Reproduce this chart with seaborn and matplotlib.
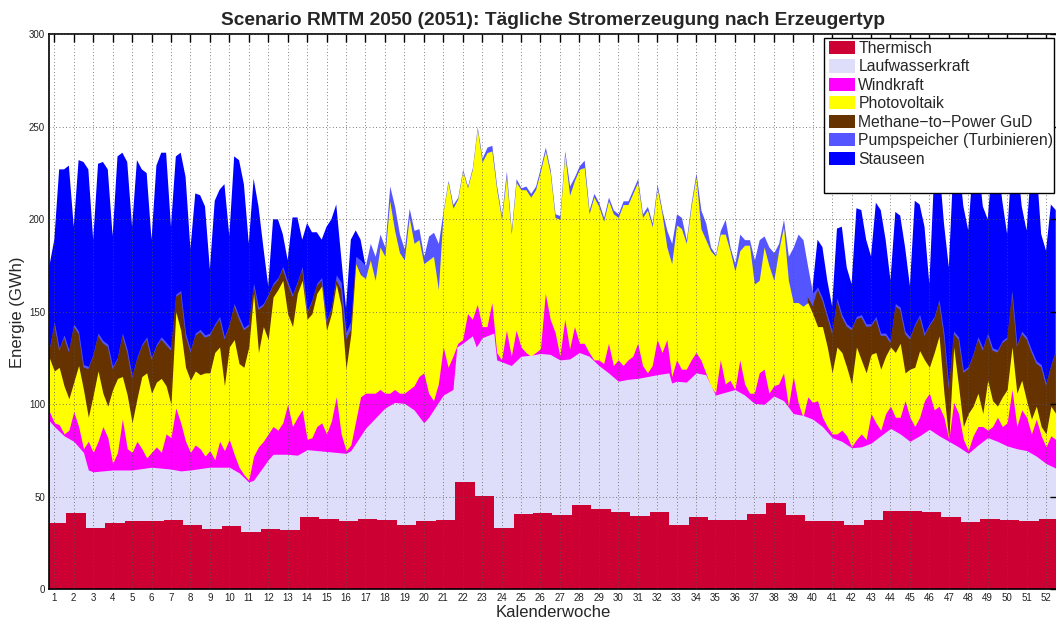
import matplotlib
matplotlib.use("Agg")
import matplotlib.pyplot as plt
from matplotlib.patches import Patch, Rectangle
import numpy as np
import seaborn as sns

N = float("nan")

# x grid in calendar weeks (quarter-week steps, 0.75 .. 52.5)
weeks = np.arange(0.75, 52.51, 0.25)

# cumulative tops of each layer (GWh)
stauseen_top = ([175,
    189, 227, 227, 229,  196, 232, 231, 227,  189, 230, 231, 227,
    191, 234, 236, 231,  196, 232, 227, 225,  189, 229, 236, 236,
    196, 234, 236, 223,  184, 214, 213, 207,  173, 210, 216, 219,
    191, 234, 232, 219,  187, 222, 207, 185,  164, 200, 200, 192,
    178, 201, 201, 189,  198, 193, 193, 189,  196, 200, 208, 180,
    152, 189, 194, 189,  175, N, N, N]
    + [N] * 88 +
    [164, 189, 185, 167,  153, 195, 196, 174,  165, 206, 205, 189,
     180, 209, 205, 189,  167, 204, 202, 185,  164, 210, 208, 196,
     165, 225, 230, 198,  174, 232, 232, 207,  194, 230, 232, 207,
     200, 232, 232, 210,  192, 233, 233, 207,  194, 230, 230, 192,
     183, 208, 205])

pump_top = [130.5,
    144.5, 130.5, 137.5, 129.5,  143.5, 139.5, 121.5, 120.5,
    127.5, 138.5, 134.5, 132.5,  120.5, 125.5, 138.5, 129.5,
    115.5, 125.5, 132.5, 136.5,  125.5, 132.5, 136.5, 133.5,
    130.5, 159.5, 161.5, 138.5,  129.5, 138.5, 140.5, 137.5,
    138.5, 143.5, 147.5, 136.5,  143.5, 154.5, 147.5, 141.5,
    143.5, 165.5, 152.5, 154.5,  159.5, 165.5, 168.5, 174.5,
    166.5, 159.5, 166.5, 174.5,  150.5, 156.5, 165.5, 168.5,
    145.5, 152.5, 170, 166,      139, 145, 180, 178,
    175, 187, 180, 192,          185, 218, 207, 192,
    184, 206, 194, 195,          180, 191, 193, 187,
    205, 221, 208, 212,          227, 218, 228, 250,
    233, 239, 240, 218,          202, 226, 194, 222,
    217, 218, 214, 218,          228, 239, 227, 203,
    202, 237, 218, 223,          229, 232, 205, 214,
    209, 201, 212, 205,          203, 210, 210, 216,
    222, 203, 207, 198,          219, 205, 194, 187,
    203, 201, 189, 209,          225, 205, 198, 185,
    181, 194, 200, 185,          176, 192, 189, 189,
    178, 189, 191, 185,          182, 187, 200, 180,
    185, 192, 189, 174,          160, 163.5, 157.5, 148.5,
    139.5, 157.5, 148.5, 143.5,  141.5, 147.5, 148.5, 143.5,
    143.5, 147.5, 138.5, 138.5,  134.5, 154.5, 152.5, 139.5,
    136.5, 143.5, 148.5, 138.5,  143.5, 147.5, 156.5, 138.5,
    109.5, 139.5, 136.5, 118.5,  120.5, 127.5, 136.5, 130.5,
    138.5, 130.5, 129.5, 134.5,  136.5, 161.5, 132.5, 139.5,
    136.5, 129.5, 123.5, 121.5,  111.5, 121.5, 129.5]

methane_top = ([129,
    143, 129, 136, 128,  142, 138, 120, 119,  126, 137, 133, 131,
    119, 124, 137, 128,  114, 124, 131, 135,  124, 131, 135, 132,
    129, 158, 160, 137,  128, 137, 139, 136,  137, 142, 146, 135,
    142, 153, 146, 140,  142, 164, 151, 153,  158, 164, 167, 173,
    165, 158, 165, 173,  149, 155, 164, 167,  144, 151, 167, 162,
    135, 140, 176, 171]
    + [N] * 88 +
    [N, N, N, 158,
     153, 162, 156, 147,  138, 156, 147, 142,  140, 146, 147, 142,
     142, 146, 137, 137,  133, 153, 151, 138,  135, 142, 147, 137,
     142, 146, 155, 137,  108, 138, 135, 117,  119, 126, 135, 129,
     137, 129, 128, 133,  135, 160, 131, 138,  135, 128, 122, 120,
     110, 120, 128])

pv_top = [125,
    118, 120, 110, 103,  112, 121, 108, 93,   105, 118, 106, 99,
    108, 114, 115, 105,  90, 103, 115, 117,   106, 112, 114, 110,
    100, 150, 140, 120,  113, 118, 116, 117,  117, 128, 131, 110,
    131, 135, 122, 120,  131, 160, 128, 142,  135, 158, 162, 167,
    149, 142, 160, 167,  146, 149, 160, 164,  140, 149, 165, 153,
    119, 138, 176, 170,  168, 178, 167, 185,  180, 210, 194, 182,
    178, 201, 187, 189,  176, 178, 180, 162,  204, 220, 206, 211,
    226, 217, 227, 249,  231, 236, 237, 216,  200, 223, 192, 220,
    216, 216, 212, 216,  226, 237, 225, 201,  200, 235, 213, 221,
    227, 228, 203, 212,  207, 199, 210, 203,  201, 208, 208, 214,
    220, 201, 205, 196,  217, 203, 185, 176,  197, 195, 187, 207,
    223, 195, 189, 183,  180, 192, 192, 183,  172, 183, 186, 186,
    165, 167, 185, 175,  167, 183, 196, 167,  155, 155, 153, 155,
    149, 142, 142, 131,  117, 131, 128, 120,  111, 131, 124, 117,
    127, 128, 119, 126,  131, 128, 133, 117,  119, 120, 129, 124,
    120, 128, 137, 106,  81, 131, 110, 88,    95, 99, 106, 95,
    113, 102, 99, 104,   108, 131, 106, 113,  102, 92, 99, 88,
    84, 99, 95]

wind_top = [96,
    90, 89, 84, 86,      96, 88, 76, 80,      74, 80, 88, 82,
    68, 74, 92, 76,      74, 80, 76, 71,      74, 77, 74, 84,
    82, 98, 90, 80,      74, 78, 76, 72,      75, 70, 80, 75,
    81, 73, 66, 62,      59, 72, 77, 80,      84, 88, 86, 90,
    100, 88, 93, 97,     81, 82, 88, 90,      84, 91, 104, 84,
    75, 78, 91, 104,     106, 106, 106, 108,  106, 106, 108, 106,
    106, 108, 110, 115,  117, 106, 102, 111,  131, 120, 126, 133,
    135, 149, 146, 154,  142, 142, 155, 128,  124, 140, 126, 140,
    131, 128, 126, 128,  130, 160, 146, 139,  126, 146, 130, 142,
    133, 133, 128, 124,  124, 122, 133, 121,  124, 121, 124, 126,
    133, 121, 117, 121,  135, 128, 135, 115,  124, 119, 119, 124,
    128, 124, 117, 110,  106, 124, 111, 113,  108, 124, 111, 106,
    106, 117, 119, 106,  110, 111, 117, 99,   115, 101, 93, 104,
    101, 102, 93, 88,    84, 84, 86, 83,      77, 81, 84, 81,
    95, 90, 86, 95,      99, 93, 93, 102,     93, 88, 93, 102,
    106, 97, 99, 93,     81, 101, 95, 81,     75, 83, 88, 88,
    86, 88, 93, 88,      90, 108, 88, 97,     93, 84, 92, 83,
    77, 83, 81]

# run-of-river is smooth, so it is read at fewer points
lauf_weeks = [0.75, 1, 1.5, 2, 2.5, 2.75, 3, 4, 5, 6, 7, 7.5, 8, 9, 10, 10.5,
              11, 11.25, 12, 12.25, 13, 13.5, 14, 15, 16, 16.25, 17, 18,
              18.5, 19, 19.5, 20, 20.25, 21, 21.5, 21.7, 22, 22.5, 22.7, 23,
              23.6, 23.75, 24, 24.5, 25, 25.5, 26, 26.5, 27, 27.5, 28, 28.5,
              29, 29.5, 30, 30.5, 31, 32, 32.6, 32.75, 33, 33.5, 34, 34.5,
              35, 35.5, 36, 36.5, 37, 37.5, 38, 38.5, 39, 39.5, 40, 40.5,
              41, 41.5, 42, 42.5, 43, 43.5, 44, 44.5, 45, 45.5, 46, 46.5,
              47, 47.5, 48, 48.5, 49, 49.5, 50, 50.5, 51, 51.5, 52, 52.6]
lauf_top = [91, 88, 83, 80, 74, 64.5, 63.5, 64.5, 64.5, 66, 65, 64, 64.5, 66,
            66, 63, 58, 59, 70, 73, 73, 72.5, 75.5, 74.5, 73.5, 75, 87, 98,
            101, 100.5, 97, 90, 93, 105, 108, 131, 133, 137, 131, 136,
            138.5, 124, 123, 121, 126, 126.5, 127.5, 127, 124, 124.5, 128,
            126, 121, 117, 112.5, 113.5, 114, 116, 117, 111.5, 112.5, 112,
            117, 116, 105, 106.5, 108, 105, 100.5, 100, 104.5, 102, 95, 94,
            92, 88, 82, 80, 76.5, 77, 79, 83, 87, 84, 80, 83, 86.5, 83, 80,
            77, 73.5, 78, 82, 80, 77.5, 76, 75, 72, 68, 65]

# thermal output is constant within each calendar week (weeks 1..52)
thermisch = [36, 41.5, 33.3, 35.6, 37, 37, 37.5, 35, 32.5, 34, 31, 32.6, 32,
             39, 38, 37, 38, 37.5, 35, 37, 37.5, 58, 50.6, 33, 40.5, 41.2,
             40, 45.5, 43.3, 41.7, 39.5, 42, 35, 39, 37.6, 37.6, 40.7, 46.5,
             40.4, 37, 37, 35, 37.5, 42.5, 42.5, 42, 39, 36.4, 38, 37.5, 37,
             38]
therm_edges = np.arange(0.62, 53.0, 1.0)

names = ["Thermisch", "Laufwasserkraft", "Windkraft", "Photovoltaik",
         "Methane\u2212to\u2212Power GuD", "Pumpspeicher (Turbinieren)",
         "Stauseen"]
colors = sns.color_palette(["#CC0033", "#DEDEFA", "#FF00FF", "#FFFF00",
                            "#663300", "#5555FF", "#0000FF"])


def main():
    for arr in (stauseen_top, pump_top, methane_top, pv_top, wind_top):
        assert len(arr) == len(weeks), len(arr)

    sns.set_theme(style="white")
    plt.rcParams["font.family"] = ["Liberation Sans", "DejaVu Sans"]

    fig = plt.figure(figsize=(10.56, 6.19), dpi=100)
    ax = fig.add_axes([49.3 / 1056, 1 - 589.3 / 619,
                       (1057.5 - 49.3) / 1056, 555 / 619])

    # draw back to front: each layer filled from zero up to its cumulative top
    tops = [stauseen_top, pump_top, methane_top, pv_top, wind_top]
    for top, color in zip(tops, colors[::-1][:5]):
        ax.fill_between(weeks, 0, top, color=color, linewidth=0)
    ax.fill_between(lauf_weeks, 0, lauf_top, color=colors[1], linewidth=0)
    ax.fill_between(therm_edges, 0, thermisch + thermisch[-1:],
                    step="post", color=colors[0], linewidth=0)

    ax.set_xlim(0.743, 52.59)
    ax.set_ylim(0, 300)
    ax.set_xticks(range(1, 53))
    ax.set_yticks(range(0, 301, 50))
    ax.set_axisbelow(False)
    ax.grid(True, linestyle=(0, (1, 3)), color="#555555", linewidth=0.6)
    ax.tick_params(direction="in", length=6, width=1, top=True, right=True,
                   labelsize=7, pad=3, colors="black", labelcolor="#222222")
    for sp in ax.spines.values():
        sp.set_color("black")
        sp.set_linewidth(1.2)

    ax.set_title("Scenario RMTM 2050 (2051): T\u00e4gliche Stromerzeugung "
                 "nach Erzeugertyp", fontsize=13.8, fontweight="bold", pad=7)
    ax.set_xlabel("Kalenderwoche", fontsize=12, labelpad=1)
    ax.set_ylabel("Energie (GWh)", fontsize=12, labelpad=3)

    # legend: MATLAB style box with some empty space below the entries
    ax.add_patch(Rectangle((0.768, 0.7135), 0.229, 0.2793,
                           transform=ax.transAxes, facecolor="white",
                           edgecolor="black", linewidth=1, zorder=4))
    handles = [Patch(facecolor=c, edgecolor="none") for c in colors]
    ax.legend(handles, names, loc="upper left", bbox_to_anchor=(0.7737, 0.988),
              frameon=False, fontsize=11.3, handlelength=1.65,
              handleheight=0.9, handletextpad=0.2, labelspacing=0.22,
              borderpad=0, borderaxespad=0)

    fig.savefig("out.png", dpi=100)


if __name__ == "__main__":
    main()
